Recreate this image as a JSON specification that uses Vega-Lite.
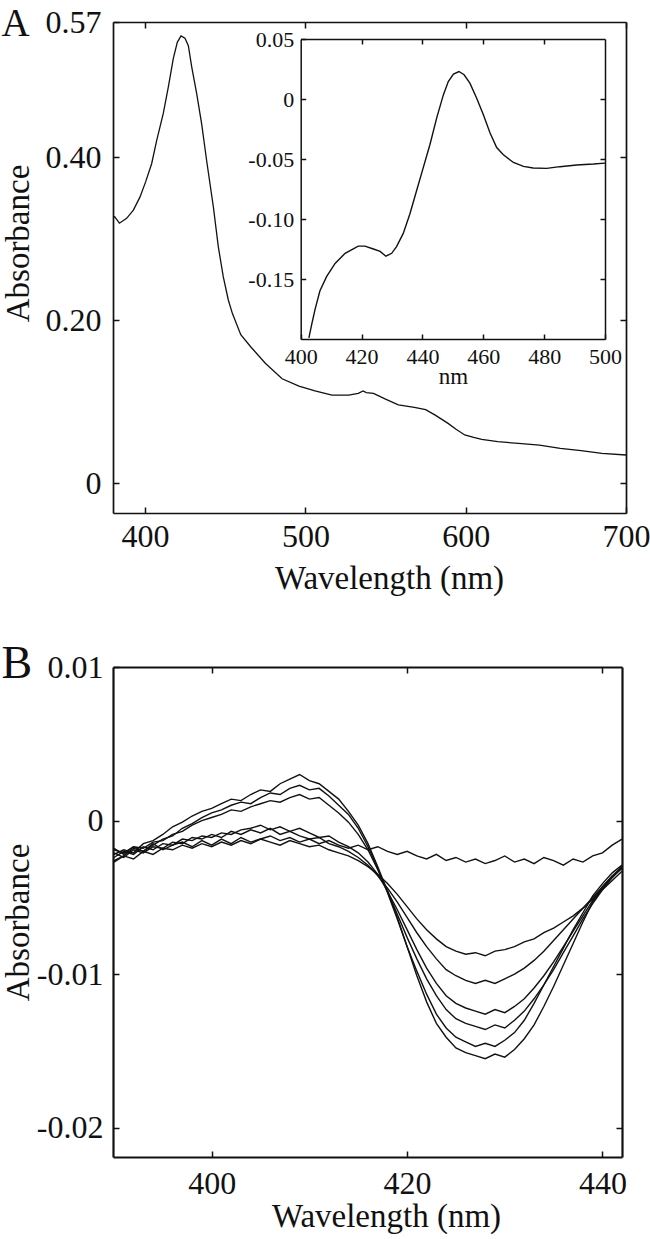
{
  "$schema": "https://vega.github.io/schema/vega-lite/v6.json",
  "width": 650,
  "height": 1239,
  "autosize": "none",
  "padding": 0,
  "background": "white",
  "config": {
    "view": {"stroke": null},
    "axis": {
      "grid": false,
      "domainColor": "#111",
      "tickColor": "#111",
      "labelColor": "#111",
      "titleColor": "#111",
      "labelFont": "Liberation Serif",
      "titleFont": "Liberation Serif",
      "titleFontWeight": "normal",
      "labelFlush": false,
      "labelOverlap": false,
      "labelBound": false,
      "tickWidth": 1.5
    }
  },
  "datasets": {
    "A": [
      {"w": 380, "a": 0.326}, {"w": 381, "a": 0.327}, {"w": 384, "a": 0.319}, {"w": 388.5, "a": 0.325},
      {"w": 392.7, "a": 0.335}, {"w": 396.8, "a": 0.351}, {"w": 400.4, "a": 0.37}, {"w": 404.1, "a": 0.392},
      {"w": 407.3, "a": 0.421}, {"w": 411.4, "a": 0.454}, {"w": 414.5, "a": 0.486}, {"w": 417.6, "a": 0.521},
      {"w": 420.1, "a": 0.541}, {"w": 422.4, "a": 0.549}, {"w": 424.9, "a": 0.546}, {"w": 427, "a": 0.537},
      {"w": 429.1, "a": 0.511}, {"w": 432.2, "a": 0.478}, {"w": 435.3, "a": 0.441}, {"w": 438.4, "a": 0.396},
      {"w": 442.6, "a": 0.339}, {"w": 445.7, "a": 0.29}, {"w": 448.8, "a": 0.253}, {"w": 451.9, "a": 0.225},
      {"w": 454.5, "a": 0.208}, {"w": 459.7, "a": 0.182}, {"w": 466, "a": 0.167}, {"w": 475, "a": 0.147},
      {"w": 485.5, "a": 0.128}, {"w": 496, "a": 0.119}, {"w": 506, "a": 0.113}, {"w": 516.6, "a": 0.108},
      {"w": 527, "a": 0.108}, {"w": 533, "a": 0.11}, {"w": 536, "a": 0.113}, {"w": 538, "a": 0.111},
      {"w": 542.5, "a": 0.11}, {"w": 550, "a": 0.103}, {"w": 558, "a": 0.096}, {"w": 568, "a": 0.093},
      {"w": 575, "a": 0.09}, {"w": 581, "a": 0.0834}, {"w": 589, "a": 0.0732}, {"w": 594, "a": 0.066},
      {"w": 599.4, "a": 0.059}, {"w": 605, "a": 0.056}, {"w": 610, "a": 0.0536}, {"w": 620, "a": 0.0507},
      {"w": 633, "a": 0.0487}, {"w": 646, "a": 0.0466}, {"w": 659, "a": 0.0425}, {"w": 672, "a": 0.0397},
      {"w": 685, "a": 0.0364}, {"w": 700, "a": 0.0344}
    ],
    "inset": [
      {"w": 402.7, "v": -0.199}, {"w": 403.6, "v": -0.188}, {"w": 404.7, "v": -0.1755}, {"w": 406.3, "v": -0.16},
      {"w": 408.5, "v": -0.148}, {"w": 411.3, "v": -0.137}, {"w": 414.6, "v": -0.1286}, {"w": 418.9, "v": -0.1226},
      {"w": 421.1, "v": -0.1226}, {"w": 423.9, "v": -0.125}, {"w": 426.1, "v": -0.127}, {"w": 428, "v": -0.131},
      {"w": 429.9, "v": -0.1286}, {"w": 431.5, "v": -0.123}, {"w": 433.7, "v": -0.112}, {"w": 435.9, "v": -0.0956},
      {"w": 438.1, "v": -0.0763}, {"w": 440.3, "v": -0.057}, {"w": 442.5, "v": -0.0377}, {"w": 444.7, "v": -0.0157},
      {"w": 446.9, "v": 0.0036}, {"w": 448.5, "v": 0.0146}, {"w": 450.2, "v": 0.0207}, {"w": 452, "v": 0.0229},
      {"w": 453.7, "v": 0.0202}, {"w": 455.6, "v": 0.0132}, {"w": 457.8, "v": 0.0008}, {"w": 460, "v": -0.0129},
      {"w": 462.2, "v": -0.0281}, {"w": 464.4, "v": -0.0405}, {"w": 466.6, "v": -0.0465}, {"w": 469.9, "v": -0.0529},
      {"w": 473.2, "v": -0.0562}, {"w": 476.4, "v": -0.0575}, {"w": 480.8, "v": -0.0578}, {"w": 485.2, "v": -0.0564},
      {"w": 490.7, "v": -0.055}, {"w": 496.2, "v": -0.0542}, {"w": 500, "v": -0.0534}
    ],
    "B": [
      {"w": 390, "a": -0.0027, "b": -0.0021, "c": -0.0024, "d": -0.0019, "e": -0.0026, "f": -0.0022, "g": -0.0018},
      {"w": 391, "a": -0.0023, "b": -0.0024, "c": -0.0020, "d": -0.0021, "e": -0.0023, "f": -0.0019, "g": -0.0022},
      {"w": 392, "a": -0.0025, "b": -0.0019, "c": -0.0022, "d": -0.0017, "e": -0.0018, "f": -0.0021, "g": -0.0017},
      {"w": 393, "a": -0.0020, "b": -0.0021, "c": -0.0017, "d": -0.0018, "e": -0.0020, "f": -0.0015, "g": -0.0020},
      {"w": 394, "a": -0.0022, "b": -0.0017, "c": -0.0019, "d": -0.0014, "e": -0.0016, "f": -0.0013, "g": -0.0015},
      {"w": 395, "a": -0.0018, "b": -0.0018, "c": -0.0015, "d": -0.0013, "e": -0.0012, "f": -0.0009, "g": -0.0019},
      {"w": 396, "a": -0.0019, "b": -0.0014, "c": -0.0016, "d": -0.0009, "e": -0.0010, "f": -0.0004, "g": -0.0016},
      {"w": 397, "a": -0.0016, "b": -0.0015, "c": -0.0012, "d": -0.0007, "e": -0.0005, "f": -0.0001, "g": -0.0014},
      {"w": 398, "a": -0.0018, "b": -0.0011, "c": -0.0013, "d": -0.0003, "e": -0.0002, "f": 0.0003, "g": -0.0017},
      {"w": 399, "a": -0.0015, "b": -0.0012, "c": -0.0010, "d": 0.0000, "e": 0.0002, "f": 0.0006, "g": -0.0013},
      {"w": 400, "a": -0.0017, "b": -0.0009, "c": -0.0011, "d": 0.0002, "e": 0.0005, "f": 0.0008, "g": -0.0016},
      {"w": 401, "a": -0.0014, "b": -0.0011, "c": -0.0008, "d": 0.0004, "e": 0.0007, "f": 0.0011, "g": -0.0012},
      {"w": 402, "a": -0.0016, "b": -0.0007, "c": -0.0009, "d": 0.0007, "e": 0.0010, "f": 0.0014, "g": -0.0015},
      {"w": 403, "a": -0.0013, "b": -0.0009, "c": -0.0006, "d": 0.0006, "e": 0.0012, "f": 0.0013, "g": -0.0011},
      {"w": 404, "a": -0.0015, "b": -0.0006, "c": -0.0005, "d": 0.0009, "e": 0.0011, "f": 0.0017, "g": -0.0014},
      {"w": 405, "a": -0.0012, "b": -0.0008, "c": -0.0003, "d": 0.0011, "e": 0.0015, "f": 0.0020, "g": -0.0012},
      {"w": 406, "a": -0.0014, "b": -0.0005, "c": -0.0006, "d": 0.0013, "e": 0.0018, "f": 0.0019, "g": -0.0010},
      {"w": 407, "a": -0.0016, "b": -0.0009, "c": -0.0004, "d": 0.0012, "e": 0.0017, "f": 0.0024, "g": -0.0013},
      {"w": 408, "a": -0.0013, "b": -0.0007, "c": -0.0007, "d": 0.0015, "e": 0.0021, "f": 0.0027, "g": -0.0011},
      {"w": 409, "a": -0.0015, "b": -0.0010, "c": -0.0005, "d": 0.0017, "e": 0.0023, "f": 0.0030, "g": -0.0014},
      {"w": 410, "a": -0.0017, "b": -0.0012, "c": -0.0008, "d": 0.0014, "e": 0.0020, "f": 0.0026, "g": -0.0012},
      {"w": 411, "a": -0.0016, "b": -0.0011, "c": -0.0011, "d": 0.0015, "e": 0.0021, "f": 0.0024, "g": -0.0015},
      {"w": 412, "a": -0.0019, "b": -0.0015, "c": -0.0010, "d": 0.0010, "e": 0.0016, "f": 0.0019, "g": -0.0013},
      {"w": 413, "a": -0.0021, "b": -0.0017, "c": -0.0014, "d": 0.0005, "e": 0.0010, "f": 0.0014, "g": -0.0016},
      {"w": 414, "a": -0.0023, "b": -0.0020, "c": -0.0017, "d": -0.0001, "e": 0.0004, "f": 0.0006, "g": -0.0018},
      {"w": 415, "a": -0.0026, "b": -0.0024, "c": -0.0021, "d": -0.0009, "e": -0.0005, "f": -0.0003, "g": -0.0016},
      {"w": 416, "a": -0.0030, "b": -0.0029, "c": -0.0027, "d": -0.0019, "e": -0.0017, "f": -0.0015, "g": -0.0019},
      {"w": 417, "a": -0.0035, "b": -0.0036, "c": -0.0035, "d": -0.0032, "e": -0.0031, "f": -0.0030, "g": -0.0017},
      {"w": 418, "a": -0.0041, "b": -0.0044, "c": -0.0046, "d": -0.0046, "e": -0.0047, "f": -0.0046, "g": -0.0020},
      {"w": 419, "a": -0.0048, "b": -0.0053, "c": -0.0058, "d": -0.0061, "e": -0.0064, "f": -0.0063, "g": -0.0022},
      {"w": 420, "a": -0.0056, "b": -0.0063, "c": -0.0071, "d": -0.0076, "e": -0.0082, "f": -0.0082, "g": -0.0020},
      {"w": 421, "a": -0.0064, "b": -0.0073, "c": -0.0084, "d": -0.0090, "e": -0.0098, "f": -0.0101, "g": -0.0023},
      {"w": 422, "a": -0.0071, "b": -0.0082, "c": -0.0096, "d": -0.0103, "e": -0.0113, "f": -0.0118, "g": -0.0025},
      {"w": 423, "a": -0.0077, "b": -0.0090, "c": -0.0106, "d": -0.0114, "e": -0.0126, "f": -0.0132, "g": -0.0022},
      {"w": 424, "a": -0.0082, "b": -0.0097, "c": -0.0114, "d": -0.0123, "e": -0.0135, "f": -0.0141, "g": -0.0026},
      {"w": 425, "a": -0.0085, "b": -0.0101, "c": -0.0119, "d": -0.0129, "e": -0.0141, "f": -0.0148, "g": -0.0024},
      {"w": 426, "a": -0.0087, "b": -0.0104, "c": -0.0122, "d": -0.0132, "e": -0.0144, "f": -0.0151, "g": -0.0027},
      {"w": 427, "a": -0.0086, "b": -0.0106, "c": -0.0124, "d": -0.0134, "e": -0.0147, "f": -0.0153, "g": -0.0025},
      {"w": 428, "a": -0.0088, "b": -0.0104, "c": -0.0126, "d": -0.0136, "e": -0.0145, "f": -0.0155, "g": -0.0028},
      {"w": 429, "a": -0.0085, "b": -0.0106, "c": -0.0123, "d": -0.0133, "e": -0.0147, "f": -0.0152, "g": -0.0026},
      {"w": 430, "a": -0.0084, "b": -0.0103, "c": -0.0125, "d": -0.0135, "e": -0.0143, "f": -0.0154, "g": -0.0023},
      {"w": 431, "a": -0.0082, "b": -0.0100, "c": -0.0121, "d": -0.0130, "e": -0.0138, "f": -0.0149, "g": -0.0027},
      {"w": 432, "a": -0.0079, "b": -0.0096, "c": -0.0116, "d": -0.0124, "e": -0.0130, "f": -0.0142, "g": -0.0025},
      {"w": 433, "a": -0.0077, "b": -0.0091, "c": -0.0109, "d": -0.0116, "e": -0.0119, "f": -0.0133, "g": -0.0028},
      {"w": 434, "a": -0.0073, "b": -0.0085, "c": -0.0101, "d": -0.0107, "e": -0.0107, "f": -0.0121, "g": -0.0024},
      {"w": 435, "a": -0.0070, "b": -0.0078, "c": -0.0092, "d": -0.0097, "e": -0.0095, "f": -0.0108, "g": -0.0026},
      {"w": 436, "a": -0.0066, "b": -0.0071, "c": -0.0082, "d": -0.0086, "e": -0.0083, "f": -0.0094, "g": -0.0029},
      {"w": 437, "a": -0.0062, "b": -0.0064, "c": -0.0072, "d": -0.0075, "e": -0.0071, "f": -0.0080, "g": -0.0025},
      {"w": 438, "a": -0.0057, "b": -0.0057, "c": -0.0062, "d": -0.0064, "e": -0.0060, "f": -0.0066, "g": -0.0027},
      {"w": 439, "a": -0.0051, "b": -0.0050, "c": -0.0052, "d": -0.0054, "e": -0.0049, "f": -0.0053, "g": -0.0023},
      {"w": 440, "a": -0.0045, "b": -0.0043, "c": -0.0043, "d": -0.0045, "e": -0.0041, "f": -0.0044, "g": -0.0021},
      {"w": 441, "a": -0.0039, "b": -0.0036, "c": -0.0036, "d": -0.0037, "e": -0.0034, "f": -0.0037, "g": -0.0016},
      {"w": 442, "a": -0.0033, "b": -0.0031, "c": -0.0030, "d": -0.0030, "e": -0.0029, "f": -0.0031, "g": -0.0012}
    ]
  },
  "layer": [
    {
      "data": {"name": "A"},
      "mark": {"type": "line", "color": "#111", "strokeWidth": 1.3},
      "encoding": {
        "x": {"field": "w", "type": "quantitative",
          "scale": {"domain": [380, 700], "range": [113, 626], "nice": false, "zero": false},
          "axis": {"orient": "bottom", "offset": -726, "values": [400, 500, 600, 700], "tickSize": -6,
            "domainWidth": 1.7, "labelFontSize": 32, "labelPadding": 14,
            "title": "Wavelength (nm)", "titleFontSize": 33, "titleX": 389, "titleY": 75, "titleBaseline": "alphabetic", "titleAlign": "center"}},
        "y": {"field": "a", "type": "quantitative",
          "scale": {"domain": [-0.0368, 0.566], "range": [513, 22], "nice": false, "zero": false},
          "axis": {"orient": "left", "offset": -113, "values": [0, 0.2, 0.4, 0.566], "tickSize": -6,
            "labelExpr": "datum.value == 0 ? '0' : (datum.value > 0.5 ? '0.57' : format(datum.value, '.2f'))",
            "domainWidth": 1.7, "labelFontSize": 32, "labelPadding": 18,
            "title": "Absorbance", "titleFontSize": 33, "titleAngle": -90, "titleX": -85, "titleY": 243, "titleBaseline": "alphabetic", "titleAlign": "center"}}
      }
    },
    {
      "data": {"name": "A"},
      "mark": {"type": "line", "opacity": 0},
      "encoding": {
        "x": {"field": "w", "type": "quantitative",
          "scale": {"domain": [380, 700], "range": [113, 626], "nice": false, "zero": false},
          "axis": {"orient": "top", "offset": -22, "values": [400, 500, 600, 700], "tickSize": -6, "labels": false,
            "domainWidth": 1.7,
            "title": "A", "titleFontSize": 39, "titleX": 1, "titleY": 13, "titleAlign": "left", "titleBaseline": "alphabetic", "titleAngle": 0}},
        "y": {"field": "a", "type": "quantitative",
          "scale": {"domain": [-0.0368, 0.566], "range": [513, 22], "nice": false, "zero": false},
          "axis": {"orient": "right", "offset": -24, "values": [0, 0.2, 0.4], "tickSize": -6, "labels": false,
            "domainWidth": 1.7, "title": null}}
      }
    },
    {
      "data": {"name": "inset"},
      "mark": {"type": "line", "color": "#111", "strokeWidth": 1.4},
      "encoding": {
        "x": {"field": "w", "type": "quantitative",
          "scale": {"domain": [400, 500], "range": [300.7, 605], "nice": false, "zero": false},
          "axis": {"orient": "bottom", "offset": -900, "values": [400, 420, 440, 460, 480, 500], "tickSize": -5,
            "domainWidth": 1.5, "labelFontSize": 22, "labelPadding": 12,
            "title": "nm", "titleFontSize": 23, "titleY": 44, "titleBaseline": "alphabetic"}},
        "y": {"field": "v", "type": "quantitative",
          "scale": {"domain": [-0.2, 0.05], "range": [339, 39], "nice": false, "zero": false},
          "axis": {"orient": "left", "offset": -300.7, "values": [0.05, 0, -0.05, -0.1, -0.15], "tickSize": -5,
            "labelExpr": "datum.value == 0 ? '0' : (datum.value < 0 ? '-' : '') + format(abs(datum.value), '.2f')",
            "domainWidth": 1.5, "labelFontSize": 22, "labelPadding": 12, "title": null}}
      }
    },
    {
      "data": {"name": "inset"},
      "mark": {"type": "line", "opacity": 0},
      "encoding": {
        "x": {"field": "w", "type": "quantitative",
          "scale": {"domain": [400, 500], "range": [300.7, 605], "nice": false, "zero": false},
          "axis": {"orient": "top", "offset": -39, "values": [420, 440, 460, 480], "tickSize": -5, "labels": false,
            "domainWidth": 1.5, "title": null}},
        "y": {"field": "v", "type": "quantitative",
          "scale": {"domain": [-0.2, 0.05], "range": [339, 39], "nice": false, "zero": false},
          "axis": {"orient": "right", "offset": -45, "values": [0, -0.05, -0.1, -0.15], "tickSize": -5, "labels": false,
            "domainWidth": 1.5, "title": null}}
      }
    },
    {
      "data": {"name": "B"},
      "transform": [{"fold": ["a", "b", "c", "d", "e", "f", "g"], "as": ["s", "v"]}],
      "mark": {"type": "line", "color": "#111", "strokeWidth": 1.4},
      "encoding": {
        "detail": {"field": "s", "type": "nominal"},
        "x": {"field": "w", "type": "quantitative",
          "scale": {"domain": [389.9, 442], "range": [113, 622], "nice": false, "zero": false},
          "axis": {"orient": "bottom", "offset": -82, "values": [400, 420, 440], "tickSize": -6,
            "domainWidth": 2.2, "labelFontSize": 32, "labelPadding": 17,
            "title": "Wavelength (nm)", "titleFontSize": 33, "titleX": 386, "titleY": 69, "titleBaseline": "alphabetic", "titleAlign": "center"}},
        "y": {"field": "v", "type": "quantitative",
          "scale": {"domain": [-0.0219, 0.01], "range": [1157, 667], "nice": false, "zero": false},
          "axis": {"orient": "left", "offset": -113, "values": [0.01, 0, -0.01, -0.02], "tickSize": -6,
            "labelExpr": "datum.value == 0 ? '0' : (datum.value < 0 ? '-' : '') + format(abs(datum.value), '.2f')",
            "domainWidth": 2.2, "labelFontSize": 32, "labelPadding": 16,
            "title": "Absorbance", "titleFontSize": 33, "titleAngle": -90, "titleX": -85, "titleY": 922, "titleBaseline": "alphabetic", "titleAlign": "center"}}
      }
    },
    {
      "data": {"name": "B"},
      "transform": [{"fold": ["a"], "as": ["s", "v"]}],
      "mark": {"type": "line", "opacity": 0},
      "encoding": {
        "x": {"field": "w", "type": "quantitative",
          "scale": {"domain": [389.9, 442], "range": [113, 622], "nice": false, "zero": false},
          "axis": {"orient": "top", "offset": -667, "values": [400, 420, 440], "tickSize": -6, "labels": false,
            "domainWidth": 2.2,
            "title": "B", "titleFontSize": 46, "titleX": 1, "titleY": 10, "titleAlign": "left", "titleBaseline": "alphabetic", "titleAngle": 0}},
        "y": {"field": "v", "type": "quantitative",
          "scale": {"domain": [-0.0219, 0.01], "range": [1157, 667], "nice": false, "zero": false},
          "axis": {"orient": "right", "offset": -28, "values": [0, -0.01, -0.02], "tickSize": -6, "labels": false,
            "domainWidth": 2.2, "title": null}}
      }
    }
  ],
  "resolve": {
    "scale": {"x": "independent", "y": "independent"},
    "axis": {"x": "independent", "y": "independent"}
  }
}
